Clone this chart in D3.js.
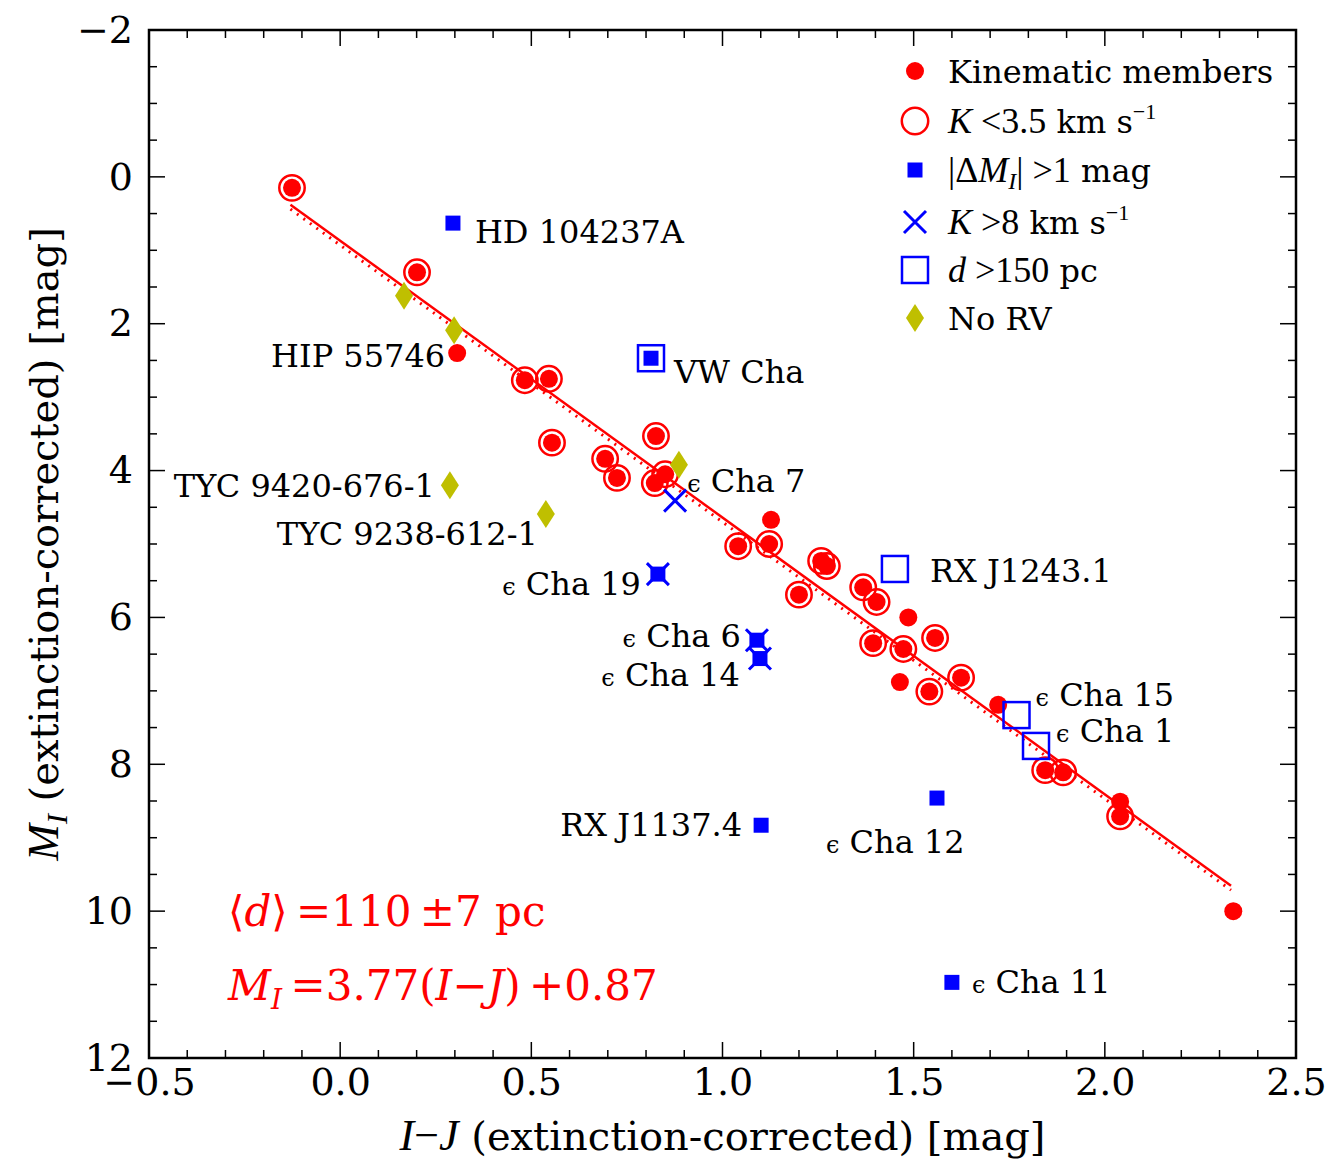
<!DOCTYPE html>
<html>
<head>
<meta charset="utf-8">
<script src="https://cdn.jsdelivr.net/npm/d3@7"></script>
<style>
  body { margin: 0; background: #fff; }
  svg text { font-family: "DejaVu Serif", serif; }
</style>
</head>
<body>
<div id="chart"></div>
<script>
// kinematic members (red filled dots)
const kinematic = [
  [-0.126, 0.15], [0.201, 1.30], [0.306, 2.40], [0.483, 2.77], [0.546, 2.75],
  [0.554, 3.62], [0.693, 3.84], [0.724, 4.10], [0.826, 3.53], [0.823, 4.17],
  [0.850, 4.05], [1.127, 4.67], [1.041, 5.03], [1.122, 5.00], [1.258, 5.23],
  [1.273, 5.30], [1.200, 5.69], [1.368, 5.59], [1.403, 5.79], [1.486, 6.00],
  [1.556, 6.28], [1.394, 6.35], [1.473, 6.43], [1.464, 6.88], [1.541, 7.01],
  [1.624, 6.82], [1.721, 7.19], [1.844, 8.08], [1.891, 8.11], [2.040, 8.51],
  [2.040, 8.71], [2.336, 10.00]
];
// K < 3.5 km/s (open red circles)
const lowK = [
  [-0.126, 0.15], [0.201, 1.30], [0.483, 2.77], [0.546, 2.75], [0.554, 3.62],
  [0.693, 3.84], [0.724, 4.10], [0.826, 3.53], [0.823, 4.17], [0.850, 4.05],
  [1.041, 5.03], [1.122, 5.00], [1.258, 5.23], [1.273, 5.30], [1.200, 5.69],
  [1.368, 5.59], [1.403, 5.79], [1.556, 6.28], [1.394, 6.35], [1.473, 6.43],
  [1.541, 7.01], [1.624, 6.82], [1.844, 8.08], [1.891, 8.11], [2.040, 8.71]
];
// |dM_I| > 1 mag (blue filled squares)
const bigDM = [
  [0.295, 0.63], [0.813, 2.47], [0.831, 5.41], [1.090, 6.31], [1.098, 6.56],
  [1.101, 8.83], [1.561, 8.46], [1.600, 10.97]
];
// K > 8 km/s (blue crosses)
const highK = [[0.876, 4.41], [0.831, 5.41], [1.090, 6.31], [1.098, 6.56]];
// d > 150 pc (blue open squares)
const farD = [[0.813, 2.47], [1.451, 5.34], [1.769, 7.33], [1.820, 7.75]];
// no RV (olive diamonds)
const noRV = [[0.167, 1.62], [0.298, 2.09], [0.287, 4.20], [0.538, 4.59], [0.886, 3.92]];

// fit line M_I = slope*(I-J) + icpt
const fitSlope = 3.77, fitIcpt = 0.87;
const fitRange = [-0.13, 2.33];

// star labels: [x, y, eps?, name, anchor side]
const starLabels = [
  [0.295, 0.63, false, "HD 104237A", "right"],
  [0.306, 2.40, false, "HIP 55746", "left"],
  [0.813, 2.47, false, "VW Cha", "right"],
  [0.287, 4.20, false, "TYC 9420-676-1", "left"],
  [0.538, 4.59, false, "TYC 9238-612-1", "left"],
  [0.850, 4.05, true, "Cha 7", "right"],
  [0.831, 5.41, true, "Cha 19", "left"],
  [1.451, 5.34, false, "RX J1243.1", "right"],
  [1.090, 6.31, true, "Cha 6", "left"],
  [1.098, 6.56, true, "Cha 14", "left"],
  [1.769, 7.33, true, "Cha 15", "right"],
  [1.820, 7.75, true, "Cha 1", "right"],
  [1.101, 8.83, false, "RX J1137.4", "left"],
  [1.561, 8.46, true, "Cha 12", "below"],
  [1.600, 10.97, true, "Cha 11", "right"]
];

const xTicks = [-0.5, 0.0, 0.5, 1.0, 1.5, 2.0, 2.5];
const yTicks = [-2, 0, 2, 4, 6, 8, 10, 12];

const W = 1338, H = 1163;
const L = 149, R = 1296, T = 30, B = 1058;

const svg = d3.select("#chart").append("svg")
  .attr("width", W).attr("height", H);

const x = d3.scaleLinear().domain([-0.5, 2.5]).range([L, R]);
const y = d3.scaleLinear().domain([-2, 12]).range([T, B]);

const red = "#ff0000", blue = "#0000ff", olive = "#bfbf00";

// ticks (inward, all four sides)
const xMinor = d3.range(-0.5, 2.501, 0.1);
const yMinor = d3.range(-2, 12.01, 0.5);
const tk = svg.append("g").attr("stroke", "#000").attr("stroke-width", 1.5);
xMinor.forEach(function (v) {
  const major = Math.abs(v * 2 - Math.round(v * 2)) < 1e-6;
  const len = major ? 16 : 8;
  tk.append("line").attr("x1", x(v)).attr("x2", x(v)).attr("y1", B).attr("y2", B - len);
  tk.append("line").attr("x1", x(v)).attr("x2", x(v)).attr("y1", T).attr("y2", T + len);
});
yMinor.forEach(function (v) {
  const major = Math.abs(v / 2 - Math.round(v / 2)) < 1e-6;
  const len = major ? 16 : 8;
  tk.append("line").attr("y1", y(v)).attr("y2", y(v)).attr("x1", L).attr("x2", L + len);
  tk.append("line").attr("y1", y(v)).attr("y2", y(v)).attr("x1", R).attr("x2", R - len);
});

// tick labels via axes (tick lines hidden)
const fmtX = function (d) { return (d < 0 ? "\u2212" : "") + Math.abs(d).toFixed(1); };
const fmtY = function (d) { return (d < 0 ? "\u2212" : "") + Math.abs(d); };
const gx = svg.append("g").attr("transform", "translate(0," + B + ")")
  .call(d3.axisBottom(x).tickValues(xTicks).tickFormat(fmtX).tickSize(0).tickPadding(10));
const gy = svg.append("g").attr("transform", "translate(" + L + ",0)")
  .call(d3.axisLeft(y).tickValues(yTicks).tickFormat(fmtY).tickSize(0).tickPadding(16));
[gx, gy].forEach(function (g) {
  g.select(".domain").remove();
  g.selectAll("text").attr("font-family", "DejaVu Serif").attr("font-size", 38).attr("fill", "#000");
});

// frame
svg.append("rect").attr("x", L).attr("y", T).attr("width", R - L).attr("height", B - T)
  .attr("fill", "none").attr("stroke", "#000").attr("stroke-width", 2.5);

// fit lines
const plot = svg.append("g");
const fitPts = fitRange.map(function (v) { return [v, fitSlope * v + fitIcpt]; });
const lineGen = d3.line().x(function (d) { return x(d[0]); }).y(function (d) { return y(d[1]); });
plot.append("path").datum(fitPts.map(function (d) { return [d[0], d[1] + 0.06]; }))
  .attr("d", lineGen).attr("fill", "none").attr("stroke", red)
  .attr("stroke-width", 3).attr("stroke-dasharray", "2,6");
plot.append("path").datum(fitPts).attr("d", lineGen)
  .attr("fill", "none").attr("stroke", red).attr("stroke-width", 2.5);

// markers
plot.selectAll(".ring").data(lowK).enter().append("circle")
  .attr("cx", function (d) { return x(d[0]); }).attr("cy", function (d) { return y(d[1]); })
  .attr("r", 12.7).attr("fill", "none").attr("stroke", red).attr("stroke-width", 2.5);
plot.selectAll(".dot").data(kinematic).enter().append("circle")
  .attr("cx", function (d) { return x(d[0]); }).attr("cy", function (d) { return y(d[1]); })
  .attr("r", 9).attr("fill", red);
plot.selectAll(".osq").data(farD).enter().append("rect")
  .attr("x", function (d) { return x(d[0]) - 13; }).attr("y", function (d) { return y(d[1]) - 13; })
  .attr("width", 26).attr("height", 26).attr("fill", "none").attr("stroke", blue).attr("stroke-width", 2.5);
plot.selectAll(".fsq").data(bigDM).enter().append("rect")
  .attr("x", function (d) { return x(d[0]) - 7.5; }).attr("y", function (d) { return y(d[1]) - 7.5; })
  .attr("width", 15).attr("height", 15).attr("fill", blue);
plot.selectAll(".xx").data(highK).enter().append("path")
  .attr("d", function (d) {
    const cx = x(d[0]), cy = y(d[1]), s = 11;
    return "M" + (cx - s) + "," + (cy - s) + "L" + (cx + s) + "," + (cy + s) +
      "M" + (cx - s) + "," + (cy + s) + "L" + (cx + s) + "," + (cy - s);
  })
  .attr("stroke", blue).attr("stroke-width", 3).attr("fill", "none");
const diamond = function (cx, cy) {
  return "M" + cx + "," + (cy - 14) + "L" + (cx + 9) + "," + cy + "L" + cx + "," + (cy + 14) +
    "L" + (cx - 9) + "," + cy + "Z";
};
plot.selectAll(".dia").data(noRV).enter().append("path")
  .attr("d", function (d) { return diamond(x(d[0]), y(d[1])); }).attr("fill", olive);

// star labels
const labelOffset = {
  "HD 104237A": [22, 20], "HIP 55746": [-12, 14], "VW Cha": [23, 25],
  "TYC 9420-676-1": [-15, 12], "TYC 9238-612-1": [-8, 31], "Cha 7": [22, 18],
  "Cha 19": [-17, 21], "RX J1243.1": [35, 13], "Cha 6": [-16, 7], "Cha 14": [-20, 27],
  "Cha 15": [19, -9], "Cha 1": [20, -4], "RX J1137.4": [-19, 11], "Cha 12": [-111, 55],
  "Cha 11": [20, 11]
};
starLabels.forEach(function (s) {
  const off = labelOffset[s[3]];
  const anchor = s[4] === "left" ? "end" : "start";
  const t = svg.append("text").attr("x", x(s[0]) + off[0]).attr("y", y(s[1]) + off[1])
    .attr("text-anchor", anchor).attr("font-size", 32).attr("fill", "#000");
  if (s[2]) {
    t.append("tspan").attr("font-size", 24).text("\u03f5");
    t.append("tspan").text(" " + s[3]);
  } else {
    t.text(s[3]);
  }
});

// legend
const legX = 915, legTx = 948;
const legRows = [71, 121, 170, 222, 270, 318];
const lg = svg.append("g");
lg.append("circle").attr("cx", legX).attr("cy", legRows[0]).attr("r", 9).attr("fill", red);
lg.append("circle").attr("cx", legX).attr("cy", legRows[1]).attr("r", 13.2)
  .attr("fill", "none").attr("stroke", red).attr("stroke-width", 2.5);
lg.append("rect").attr("x", legX - 7.5).attr("y", legRows[2] - 7.5).attr("width", 15).attr("height", 15).attr("fill", blue);
lg.append("path").attr("d", "M" + (legX - 11) + "," + (legRows[3] - 11) + "L" + (legX + 11) + "," + (legRows[3] + 11) +
  "M" + (legX - 11) + "," + (legRows[3] + 11) + "L" + (legX + 11) + "," + (legRows[3] - 11))
  .attr("stroke", blue).attr("stroke-width", 3);
lg.append("rect").attr("x", legX - 13).attr("y", legRows[4] - 13).attr("width", 26).attr("height", 26)
  .attr("fill", "none").attr("stroke", blue).attr("stroke-width", 2.5);
lg.append("path").attr("d", diamond(legX, legRows[5])).attr("fill", olive);

const mathFont = "Liberation Serif";
function legText(i) {
  return lg.append("text").attr("x", legTx).attr("y", legRows[i] + 12)
    .attr("font-size", 32).attr("fill", "#000");
}
legText(0).text("Kinematic members");
let t1 = legText(1);
t1.append("tspan").attr("font-family", mathFont).attr("font-style", "italic").attr("font-size", 36).text("K");
t1.append("tspan").attr("font-family", mathFont).attr("font-size", 36).text(" <3.5");
t1.append("tspan").text(" km s");
t1.append("tspan").attr("font-family", mathFont).attr("font-size", 22).attr("dy", -14).text("\u22121");
let t2 = legText(2);
t2.append("tspan").attr("font-family", mathFont).attr("font-size", 36).text("|\u0394");
t2.append("tspan").attr("font-family", mathFont).attr("font-style", "italic").attr("font-size", 36).text("M");
t2.append("tspan").attr("font-family", mathFont).attr("font-style", "italic").attr("font-size", 24).attr("dy", 7).text("I");
t2.append("tspan").attr("font-family", mathFont).attr("font-size", 36).attr("dy", -7).text("| >1");
t2.append("tspan").text(" mag");
let t3 = legText(3);
t3.append("tspan").attr("font-family", mathFont).attr("font-style", "italic").attr("font-size", 36).text("K");
t3.append("tspan").attr("font-family", mathFont).attr("font-size", 36).text(" >8");
t3.append("tspan").text(" km s");
t3.append("tspan").attr("font-family", mathFont).attr("font-size", 22).attr("dy", -14).text("\u22121");
let t4 = legText(4);
t4.append("tspan").attr("font-family", mathFont).attr("font-style", "italic").attr("font-size", 36).text("d");
t4.append("tspan").attr("font-family", mathFont).attr("font-size", 36).text(" >150");
t4.append("tspan").text(" pc");
legText(5).text("No RV");

// red annotations
const a1 = svg.append("text").attr("x", 228).attr("y", 926).attr("fill", red)
  .attr("font-family", mathFont).attr("font-size", 42);
a1.append("tspan").text("\u27e8");
a1.append("tspan").attr("font-style", "italic").text("d");
a1.append("tspan").text("\u27e9\u2009=110\u2009\u00b17 pc");
const a2 = svg.append("text").attr("x", 228).attr("y", 1000).attr("fill", red)
  .attr("font-family", mathFont).attr("font-size", 42);
a2.append("tspan").attr("font-style", "italic").text("M");
a2.append("tspan").attr("font-style", "italic").attr("font-size", 28).attr("dy", 9).text("I");
a2.append("tspan").attr("dy", -9).text("\u2009=3.77(");
a2.append("tspan").attr("font-style", "italic").text("I");
a2.append("tspan").text("\u2212");
a2.append("tspan").attr("font-style", "italic").text("J");
a2.append("tspan").text(")\u2009+0.87");

// axis titles
const xt = svg.append("text").attr("x", (L + R) / 2).attr("y", 1150).attr("text-anchor", "middle")
  .attr("font-size", 40).attr("fill", "#000");
xt.append("tspan").attr("font-family", mathFont).attr("font-style", "italic").attr("font-size", 44).text("I");
xt.append("tspan").attr("font-family", mathFont).attr("font-size", 44).text("\u2212");
xt.append("tspan").attr("font-family", mathFont).attr("font-style", "italic").attr("font-size", 44).text("J");
xt.append("tspan").text(" (extinction-corrected) [mag]");

const yt = svg.append("text").attr("transform", "translate(58," + (T + B) / 2 + ") rotate(-90)")
  .attr("text-anchor", "middle").attr("font-size", 40).attr("fill", "#000");
yt.append("tspan").attr("font-family", mathFont).attr("font-style", "italic").attr("font-size", 44).text("M");
yt.append("tspan").attr("font-family", mathFont).attr("font-style", "italic").attr("font-size", 30).attr("dy", 9).text("I");
yt.append("tspan").attr("dy", -9).text(" (extinction-corrected) [mag]");
</script>
</body>
</html>
